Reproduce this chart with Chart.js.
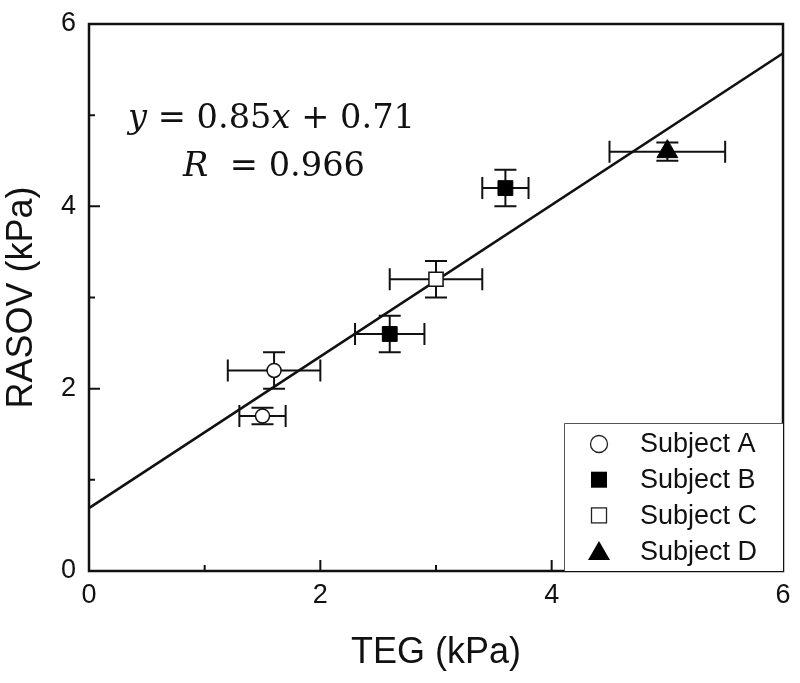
<!DOCTYPE html>
<html><head><meta charset="utf-8">
<script src="https://cdn.jsdelivr.net/npm/chart.js@4/dist/chart.umd.min.js"></script>
<style>html,body{margin:0;padding:0;background:#fff}#wrap{width:800px;height:683px;position:relative}</style>
</head><body><div id="wrap"><canvas id="c"></canvas></div>
<script>
// ---- data ----
const subjects = ['Subject A', 'Subject B', 'Subject C', 'Subject D'];
const tegA = [1.6, 1.5];   const rasovA = [2.2, 1.7];  const tegErrA = [0.4, 0.2];  const rasovErrA = [0.2, 0.09];
const tegB = [2.6, 3.6];   const rasovB = [2.6, 4.2];  const tegErrB = [0.3, 0.2];  const rasovErrB = [0.2, 0.2];
const tegC = [3.0];        const rasovC = [3.2];       const tegErrC = [0.4];       const rasovErrC = [0.2];
const tegD = [5.0];        const rasovD = [4.6];       const tegErrD = [0.5];       const rasovErrD = [0.1];
const fitX = [0, 6];       const fitY = [0.69, 5.68];
const xTicks = [0, 2, 4, 6]; const yTicks = [0, 2, 4, 6];
const eqLine1 = [['y', true], [' = 0.85', false], ['x', true], [' + 0.71', false]];
const eqLine2 = [['R', true], ['  = 0.966', false]];

const groups = [
  {teg: tegA, rasov: rasovA, te: tegErrA, re: rasovErrA},
  {teg: tegB, rasov: rasovB, te: tegErrB, re: rasovErrB},
  {teg: tegC, rasov: rasovC, te: tegErrC, re: rasovErrC},
  {teg: tegD, rasov: rasovD, te: tegErrD, re: rasovErrD}
];
const pts = (xs, ys) => xs.map((v, i) => ({x: v, y: ys[i]}));
const INK = '#111';

const errPlugin = {
  id: 'errbars',
  beforeDatasetsDraw(chart) {
    const {ctx, scales: {x, y}} = chart;
    const cap = 11;
    ctx.save();
    ctx.strokeStyle = INK; ctx.lineWidth = 2;
    groups.forEach(g => g.teg.forEach((tv, i) => {
      const px = x.getPixelForValue(tv), py = y.getPixelForValue(g.rasov[i]);
      const x1 = x.getPixelForValue(tv - g.te[i]), x2 = x.getPixelForValue(tv + g.te[i]);
      const y1 = y.getPixelForValue(g.rasov[i] - g.re[i]), y2 = y.getPixelForValue(g.rasov[i] + g.re[i]);
      ctx.beginPath();
      ctx.moveTo(x1, py); ctx.lineTo(x2, py);
      ctx.moveTo(x1, py - cap); ctx.lineTo(x1, py + cap);
      ctx.moveTo(x2, py - cap); ctx.lineTo(x2, py + cap);
      ctx.moveTo(px, y1); ctx.lineTo(px, y2);
      ctx.moveTo(px - cap, y1); ctx.lineTo(px + cap, y1);
      ctx.moveTo(px - cap, y2); ctx.lineTo(px + cap, y2);
      ctx.stroke();
    }));
    ctx.restore();
  }
};

function drawMixed(ctx, parts, cx, base, targetW, size) {
  const f = it => (it ? 'italic ' : '') + size + 'px "DejaVu Serif", "Liberation Serif", serif';
  let total = 0;
  parts.forEach(([t, it]) => { ctx.font = f(it); total += ctx.measureText(t).width; });
  const sx = targetW / total;
  ctx.save();
  ctx.translate(cx - targetW / 2, base);
  ctx.scale(sx, 1);
  let xx = 0;
  ctx.textBaseline = 'alphabetic'; ctx.textAlign = 'left'; ctx.fillStyle = INK;
  parts.forEach(([t, it]) => { ctx.font = f(it); ctx.fillText(t, xx, 0); xx += ctx.measureText(t).width; });
  ctx.restore();
}

const framePlugin = {
  id: 'frame',
  afterDatasetsDraw(chart) {
    const {ctx, chartArea: a, scales: {x, y}} = chart;
    ctx.save();
    ctx.strokeStyle = INK; ctx.lineWidth = 2.5;
    ctx.strokeRect(a.left, a.top, a.right - a.left, a.bottom - a.top);
    ctx.lineWidth = 2;
    ctx.beginPath();
    for (let v = 1; v <= 5; v++) {
      const L = v % 2 === 0 ? 11 : 6;
      const px = x.getPixelForValue(v);
      ctx.moveTo(px, a.bottom); ctx.lineTo(px, a.bottom - L);
      const py = y.getPixelForValue(v);
      ctx.moveTo(a.left, py); ctx.lineTo(a.left + L, py);
    }
    ctx.stroke();

    // equation
    drawMixed(ctx, eqLine1, 271.5, 128, 287, 33);
    drawMixed(ctx, eqLine2, 274, 176, 182, 33);

    // legend
    const lw = 219, lh = 148;
    const L = a.right - lw, T = a.bottom - lh;
    ctx.fillStyle = '#fff';
    ctx.fillRect(L, T, lw, lh);
    ctx.strokeStyle = '#555'; ctx.lineWidth = 1;
    ctx.beginPath();
    ctx.moveTo(L + 0.5, a.bottom); ctx.lineTo(L + 0.5, T + 0.5); ctx.lineTo(a.right, T + 0.5);
    ctx.stroke();
    const mx = L + 35;
    subjects.forEach((s, i) => {
      const cy = T + 21 + i * 35.7;
      ctx.save();
      ctx.lineWidth = 1.3; ctx.strokeStyle = '#222'; ctx.fillStyle = '#000';
      if (i === 0) { ctx.beginPath(); ctx.arc(mx, cy, 8.5, 0, Math.PI * 2); ctx.fillStyle = '#fff'; ctx.fill(); ctx.stroke(); }
      if (i === 1) { ctx.fillRect(mx - 8, cy - 8, 16, 16); }
      if (i === 2) { ctx.fillStyle = '#fff'; ctx.fillRect(mx - 7.5, cy - 7.5, 15, 15); ctx.strokeRect(mx - 7.5, cy - 7.5, 15, 15); }
      if (i === 3) { ctx.beginPath(); ctx.moveTo(mx, cy - 10); ctx.lineTo(mx + 11, cy + 9); ctx.lineTo(mx - 11, cy + 9); ctx.closePath(); ctx.fill(); }
      ctx.restore();
      ctx.fillStyle = INK; ctx.font = '27px "Liberation Sans", Arial, sans-serif';
      ctx.textBaseline = 'middle'; ctx.textAlign = 'left';
      ctx.fillText(s, L + 76, cy + 1);
    });
    ctx.restore();
  }
};

const tickFont = {family: '"Liberation Sans", Arial, sans-serif', size: 27};
const titleFont = {family: '"Liberation Sans", Arial, sans-serif', size: 36};

new Chart(document.getElementById('c'), {
  type: 'scatter',
  data: {
    datasets: [
      {label: subjects[0], data: pts(tegA, rasovA), pointStyle: 'circle', pointRadius: 7, backgroundColor: '#fff', borderColor: INK, borderWidth: 1.5, order: 1},
      {label: subjects[1], data: pts(tegB, rasovB), pointStyle: 'rect', pointRadius: 10.5, backgroundColor: '#000', borderColor: '#000', borderWidth: 1, order: 1},
      {label: subjects[2], data: pts(tegC, rasovC), pointStyle: 'rect', pointRadius: 10, backgroundColor: '#fff', borderColor: INK, borderWidth: 1.5, order: 1},
      {label: subjects[3], data: pts(tegD, rasovD), pointStyle: 'triangle', pointRadius: 12, backgroundColor: '#000', borderColor: '#000', borderWidth: 1, order: 1},
      {label: 'fit', type: 'line', data: pts(fitX, fitY), showLine: true, pointRadius: 0, borderColor: INK, borderWidth: 2.5, fill: false, order: 5}
    ]
  },
  options: {
    responsive: true, maintainAspectRatio: false, animation: false, events: [],
    layout: {padding: {left: 0, right: 17, top: 24, bottom: 0}},
    plugins: {legend: {display: false}, tooltip: {enabled: false}},
    scales: {
      x: {
        type: 'linear', min: 0, max: 6,
        afterBuildTicks: s => { s.ticks = xTicks.map(v => ({value: v})); },
        afterFit: s => { s.height = 112; s.paddingLeft = 0; s.paddingRight = 0; },
        grid: {display: false, drawTicks: false}, border: {display: false},
        ticks: {font: tickFont, color: INK, padding: 8},
        title: {display: true, text: 'TEG (kPa)', font: titleFont, color: INK, padding: {top: 8, bottom: 8}}
      },
      y: {
        type: 'linear', min: 0, max: 6,
        afterBuildTicks: s => { s.ticks = yTicks.map(v => ({value: v})); },
        afterFit: s => { s.width = 89; s.paddingTop = 0; s.paddingBottom = 0; },
        grid: {display: false, drawTicks: false}, border: {display: false},
        ticks: {font: tickFont, color: INK, padding: 13},
        title: {display: true, text: 'RASOV (kPa)', font: titleFont, color: INK, padding: {top: 0, bottom: 0}}
      }
    }
  },
  plugins: [errPlugin, framePlugin]
});
</script>
</body></html>
